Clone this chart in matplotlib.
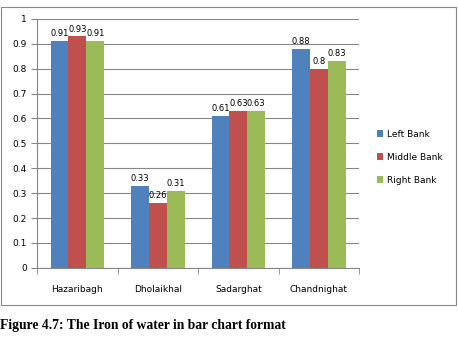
import numpy as np
import matplotlib.pyplot as plt
from matplotlib.patches import Rectangle

sites = ["Hazaribagh", "Dholaikhal", "Sadarghat", "Chandnighat"]
left_bank = [0.91, 0.33, 0.61, 0.88]
middle_bank = [0.93, 0.26, 0.63, 0.80]
right_bank = [0.91, 0.31, 0.63, 0.83]
series_names = ["Left Bank", "Middle Bank", "Right Bank"]
colors = ["#4F81BD", "#C0504D", "#9BBB59"]

fig = plt.figure(figsize=(4.58, 3.43), dpi=100)
ax = fig.add_axes([0.081, 0.219, 0.703, 0.726])

# chart frame round the plot and legend
fig.patches.append(Rectangle((1 / 458, 1 - 305 / 343), 455 / 458, 298 / 343,
                             transform=fig.transFigure, fill=False,
                             edgecolor="#878787", linewidth=0.8))

x = np.arange(len(sites))
w = 0.222
for i, (vals, name, c) in enumerate(zip([left_bank, middle_bank, right_bank], series_names, colors)):
    bars = ax.bar(x + (i - 1) * w, vals, w, color=c, label=name, zorder=3)
    ax.bar_label(bars, labels=[f"{v:g}" for v in vals], padding=2, fontsize=6, family="DejaVu Sans")

ax.set_xlim(-0.5, 3.5)
ax.set_ylim(0, 1)
ax.set_yticks(np.arange(0, 1.01, 0.1))
ax.set_yticklabels(["0", "0.1", "0.2", "0.3", "0.4", "0.5", "0.6", "0.7", "0.8", "0.9", "1"])
ax.set_xticks(x)
ax.set_xticklabels(sites)
ax.set_xticks(np.arange(-0.5, 3.6, 1), minor=True)
ax.tick_params(axis="x", which="major", length=0, pad=12, labelsize=6.5)
ax.tick_params(axis="x", which="minor", length=4, color="#868686")
ax.tick_params(axis="y", length=4, color="#868686", labelsize=6.5)
ax.grid(axis="y", color="#868686", linewidth=0.8, zorder=0)
for s in ["top", "right"]:
    ax.spines[s].set_visible(False)
ax.spines["left"].set_color("#868686")
ax.spines["bottom"].set_color("#868686")

ax.legend(loc="center left", bbox_to_anchor=(1.03, 0.445), frameon=False,
          fontsize=6.5, handlelength=0.7, handleheight=0.7, handletextpad=0.4,
          labelspacing=1.55)

fig.text(0.0, 1 - 325 / 343, "Figure 4.7: The Iron of water in bar chart format",
         family="Liberation Serif", fontweight="bold", fontsize=9.8, va="center")

fig.savefig("out.png", dpi=100)
